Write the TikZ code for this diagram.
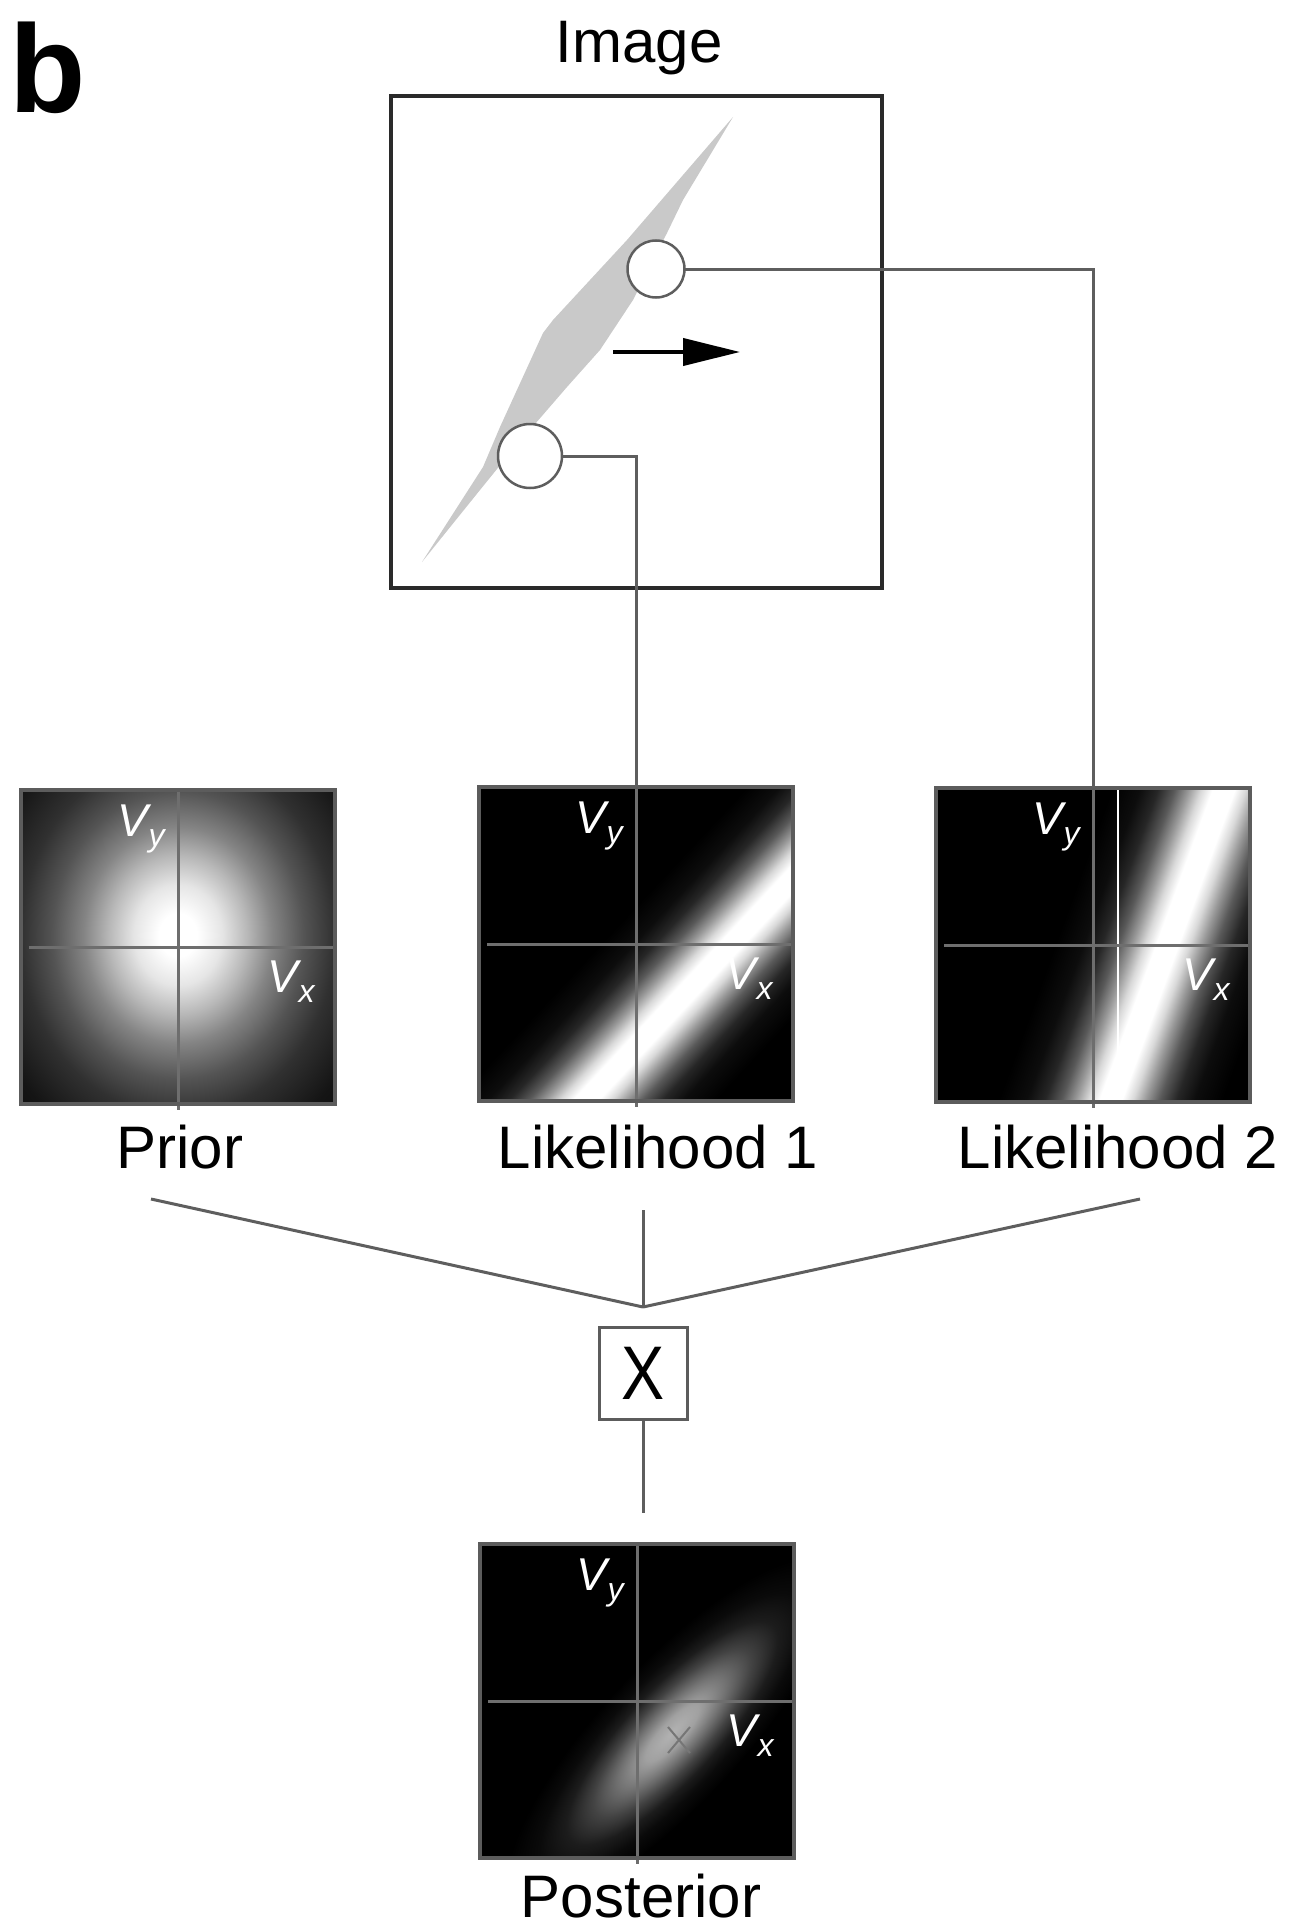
\documentclass[tikz,border=0pt]{standalone}
\usepackage{fontspec}
\setmainfont{Liberation Sans}
\usetikzlibrary{arrows.meta}

\definecolor{framegray}{HTML}{5C5C5C}
\definecolor{axisgray}{HTML}{6E6E6E}
\definecolor{wiregray}{HTML}{5E5E5E}
\definecolor{streakgray}{HTML}{C9C9C9}
\definecolor{boxblack}{HTML}{2A2A2A}
\definecolor{markgray}{HTML}{767676}

\newcommand\capfont{\fontsize{30}{36}\selectfont}
\newcommand\vfont{\fontsize{23}{27}\selectfont\itshape}
\newcommand\vsub[1]{\raisebox{-5pt}{\fontsize{16}{16}\selectfont #1}}

% prior: broad round glow
\pgfdeclareradialshading{priorglow}{\pgfpoint{0bp}{0bp}}{color(0bp)=(white); color(3bp)=(white); color(7bp)=(white!90!black); color(11bp)=(white!72!black); color(15bp)=(white!52!black); color(20bp)=(white!33!black); color(25bp)=(white!19!black); color(32bp)=(white!8!black); color(40bp)=(white!3!black); color(50bp)=(black)}
% likelihood: bright band
\pgfdeclareverticalshading{likeband}{100bp}{color(0bp)=(black); color(42bp)=(black); color(44bp)=(white!5!black); color(45.3bp)=(white!15!black); color(46.5bp)=(white!35!black); color(47.5bp)=(white!60!black); color(48.4bp)=(white!85!black); color(49.2bp)=(white); color(50.8bp)=(white); color(51.6bp)=(white!85!black); color(52.5bp)=(white!60!black); color(53.5bp)=(white!35!black); color(54.7bp)=(white!15!black); color(56bp)=(white!5!black); color(58bp)=(black); color(100bp)=(black)}
% posterior: faint blob
\pgfdeclareradialshading{postglow}{\pgfpoint{0bp}{0bp}}{color(0bp)=(white!70!black); color(4bp)=(white!63!black); color(8bp)=(white!45!black); color(12bp)=(white!26!black); color(16bp)=(white!11!black); color(20bp)=(white!4!black); color(25bp)=(black); color(50bp)=(black)}

\tikzset{every picture/.style={line width=1.5pt}}
\tikzset{
  panel/.style={rectangle, fill=black, minimum size=157pt, inner sep=0pt, outer sep=0pt},
  panelframe/.style={draw=framegray, line width=2pt},
  axisline/.style={draw=axisgray, line width=1.5pt},
  wire/.style={draw=wiregray, line width=1.5pt},
  vlabel/.style={text=white, inner sep=0pt, font=\vfont, anchor=north east},
  caption/.style={inner sep=0pt, font=\capfont, anchor=base},
  probe/.style={circle, draw=wiregray, fill=white, line width=1.25pt, inner sep=0pt, outer sep=0pt},
}

\begin{document}
\begin{tikzpicture}[x=0.5pt,y=-0.5pt]
\useasboundingbox (0,0) rectangle (1293,1926);

% Text Node
\draw (8,113) node [anchor=base west][inner sep=0pt][font=\fontsize{62.5}{70}\selectfont\bfseries] (tag) {b};
% Text Node
\draw (639,63) node [caption] (imgtitle) {Image};

%Shape: Square [image]
\node [draw=boxblack, line width=2pt, minimum width=245.5pt, minimum height=246pt, inner sep=0pt] (imgbox) at (636.5,342) {};
%Shape: Polygon [moving bar]
\fill [streakgray] (733,117) -- (683,200) -- (667,233) -- (633,300) -- (600,350) -- (567,387) -- (510,453) -- (480,490) -- (422,562) -- (483,467) -- (500,427) -- (543,333) -- (553,320) -- (627,240) -- cycle ;
%Straight Lines [motion]
\draw [-{Triangle[length=28.5pt,width=13.5pt]}, line width=2pt] (613,352) -- (740,352) ;
%Shape: Circle
\node [probe, minimum size=28.5pt] (probehi) at (656,269) {};
%Shape: Circle
\node [probe, minimum size=32pt] (probelo) at (530,456) {};

%Shape: Square [panels]
\node [panel] (prior) at (178,947) {};
\node [panel] (lik1) at (636,944) {};
\node [panel] (lik2) at (1093,945) {};
\node [panel] (post) at (637,1701) {};

% prior glow
\begin{scope}
\clip (prior.south west) rectangle (prior.north east);
\shade [shading=priorglow] (178,935) ++(-157,-180) rectangle ++(314,360);
\end{scope}
% likelihood bands
\begin{scope}
\clip (lik1.south west) rectangle (lik1.north east);
\shade [shading=likeband, shading angle=47] (731,944) ++(-300,-300) rectangle ++(600,600);
\end{scope}
\begin{scope}
\clip (lik2.south west) rectangle (lik2.north east);
\shade [shading=likeband, shading angle=70] (1167,945) ++(-330,-330) rectangle ++(660,660);
\end{scope}
\draw [white, line width=0.8pt] ([shift={(25,0)}]lik2.north) -- ([shift={(25,0)}]lik2.south) ;
% posterior blob
\begin{scope}
\clip (post.south west) rectangle (post.north east);
\begin{scope}[transform canvas={shift={(672,1733)},rotate=47}]
\shade [shading=postglow] (0,0) ellipse [x radius=230, y radius=70];
\end{scope}
\end{scope}
%Straight Lines [estimate]
\draw [draw=markgray, line width=1pt] (668,1727) -- (690,1753) (668,1753) -- (690,1727) ;

% axes, axis names, frames
\foreach \p in {prior,lik1,lik2,post}{
  \draw [axisline] (\p.north) -- ([shift={(0,6)}]\p.south) ;
  \draw [axisline] ([shift={(8,0)}]\p.west) -- (\p.east) ;
  \node [vlabel] (\p-vy) at ([shift={(-12,13)}]\p.north) {V\vsub{y}};
  \node [vlabel] (\p-vx) at ([shift={(-19,12)}]\p.east) {V\vsub{x}};
  \draw [panelframe] (\p.south west) rectangle (\p.north east) ;
}

% Text Node
\draw (180,1168) node [caption] (priorcap) {Prior};
% Text Node
\draw (658,1168) node [caption] (lik1cap) {Likelihood 1};
% Text Node
\draw (1118,1168) node [caption] (lik2cap) {Likelihood 2};
% Text Node
\draw (641,1917) node [caption] (postcap) {Posterior};

%Straight Lines [probes to likelihoods]
\draw [wire] (probelo.east) -| (lik1.north) ;
\draw [wire] (probehi.east) -| (lik2.north) ;

% product
\coordinate (meet) at (643,1307);
\coordinate (priorfoot) at (151,1199);
\coordinate (lik1foot) at (643,1210);
\coordinate (lik2foot) at (1140,1199);
\coordinate (postlead) at (643,1513);
\node [draw=framegray, fill=white, line width=1.5pt, minimum width=44pt, minimum height=46pt, inner sep=0pt, font=\fontsize{38}{40}\selectfont] (xbox) at (643,1373) {\scalebox{0.85}[1]{X}};
%Straight Lines
\draw [wire] (priorfoot) -- (meet) ;
\draw [wire] (lik1foot) -- (meet) ;
\draw [wire] (lik2foot) -- (meet) ;
\draw [wire] (xbox.south) -- (postlead) ;

\end{tikzpicture}
\end{document}
